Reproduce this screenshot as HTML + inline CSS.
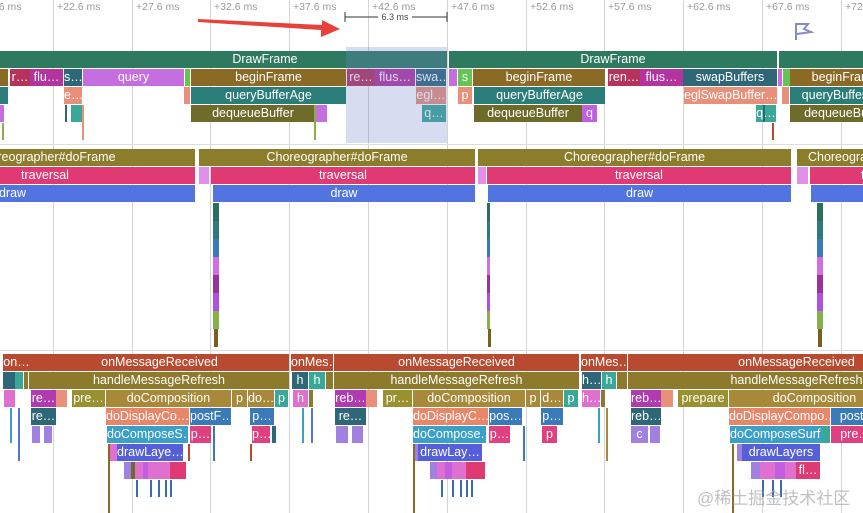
<!DOCTYPE html>
<html><head><meta charset="utf-8">
<style>
html,body{margin:0;padding:0;background:#fff;}
#root{position:relative;width:863px;height:513px;overflow:hidden;font-family:"Liberation Sans","Noto Sans CJK SC",sans-serif;}
.s{position:absolute;height:17px;color:#fff;font-size:12.5px;line-height:17px;text-align:center;overflow:hidden;white-space:nowrap;box-sizing:border-box;}
.g{position:absolute;top:0;width:1px;background:#d4d4d4;}
.t{position:absolute;top:1px;font-size:10.5px;color:#999;white-space:nowrap;}
.sep{position:absolute;left:0;width:863px;height:1px;background:#ddd;}
</style></head>
<body>
<div id="root">
  <svg style="position:absolute;left:0;top:0;z-index:4" width="863" height="50">
    <polygon points="198,19 322,25 322,20 340,29 321,37 321,30 198,22" fill="#e8403a"/>
    <line x1="345" y1="12" x2="345" y2="22" stroke="#333"/>
    <line x1="447" y1="12" x2="447" y2="22" stroke="#333"/>
    <line x1="345" y1="17" x2="378" y2="17" stroke="#333"/>
    <line x1="412" y1="17" x2="447" y2="17" stroke="#333"/>
    <text x="395" y="20" font-size="9" fill="#444" text-anchor="middle" font-family="Liberation Sans">6.3 ms</text>
    <g fill="none" stroke="#8888cc" stroke-width="2">
      <path d="M796,40 L796,24 L808,24 L804,29 L811,32 L797,34"/>
    </g>
  </svg>
  <div id="sel" style="position:absolute;left:346px;top:47px;width:101px;height:96px;background:rgba(110,130,200,0.28);z-index:5"></div>
  <div style="position:absolute;left:697px;top:484px;font-size:17px;color:rgba(150,150,150,0.6);z-index:6">@稀土掘金技术社区</div>
</div>
<script>
const tickLabels=["+17.6 ms","+22.6 ms","+27.6 ms","+32.6 ms","+37.6 ms","+42.6 ms","+47.6 ms","+52.6 ms","+57.6 ms","+62.6 ms","+67.6 ms","+72.6 ms"];
const tickStart=-26, tickStep=78.8;
const rowY=[51,69,87,105,123, 149,167,185,203,221,239,257,275,293,311,329, 354,372,390,408,426,444,462,480,498];
const C={df:"#2d7a60",bf:"#8a6a25",qa:"#2a7d78",dq:"#6e6a2a",q:"#c46ee0",r:"#b5325a",fl:"#b3349e",sw:"#2e6878",e:"#e8907a",gr:"#66c455",pu:"#c060e0",tl:"#3aa898",
ch:"#8c7d2a",tr:"#e03a74",dr:"#5274e0",lp:"#e090e8",
om:"#b84a30",hm:"#8e7a2c",dc:"#a8893a",ddc:"#e8866a",pf:"#3a7ab8",dcs:"#3aa0c8",dl:"#5560d8",rb:"#b03ab0",pr:"#9a9030",pk:"#e04080",hp:"#e070d0",vp:"#a080e0"};
// [start,end,row,colorKey,label]
const slices=[
[0,83,0,"df",""],[83,447,0,"df","DrawFrame"],[449,777,0,"df","DrawFrame"],[779,863,0,"df",""],
[0,8,1,"bf",""],[10,30,1,"r","r…"],[30,63,1,"fl","flu…"],[64,82,1,"sw","s…"],[83,184,1,"q","query"],[185,190,1,"gr",""],[191,346,1,"bf","beginFrame"],[347,375,1,"r","re…"],[375,415,1,"fl","flus…"],[416,446,1,"sw","swa…"],[449,457,1,"q",""],[458,472,1,"gr","s"],[473,605,1,"bf","beginFrame"],[608,640,1,"r","ren…"],[640,683,1,"fl","flus…"],[683,777,1,"sw","swapBuffers"],[778,782,1,"q",""],[783,790,1,"gr",""],[790,900,1,"bf","beginFrame"],
[0,8,2,"qa",""],[64,82,2,"e","e…"],[184,190,2,"e",""],[191,346,2,"qa","queryBufferAge"],[416,446,2,"e","egl…"],[458,472,2,"e","p"],[474,605,2,"qa","queryBufferAge"],[684,777,2,"e","eglSwapBuffer…"],[782,789,2,"e",""],[790,900,2,"qa","queryBufferAge"],
[0,4,3,"q",""],[71,82,3,"tl",""],[191,315,3,"dq","dequeueBuffer"],[315,327,3,"q",""],[422,446,3,"tl","q…"],[474,582,3,"dq","dequeueBuffer"],[582,597,3,"pu","q"],[756,776,3,"tl","q…"],[790,900,3,"dq","dequeueBuffer"],
[-105,195,5,"ch","Choreographer#doFrame"],[199,475,5,"ch","Choreographer#doFrame"],[478,791,5,"ch","Choreographer#doFrame"],[797,960,5,"ch","Choreographer#doFrame"],
[-105,195,6,"tr","traversal"],[199,209,6,"lp",""],[211,475,6,"tr","traversal"],[478,486,6,"lp",""],[487,791,6,"tr","traversal"],[797,808,6,"lp",""],[810,960,6,"tr","traversal"],
[-170,195,7,"dr","draw"],[213,475,7,"dr","draw"],[488,791,7,"dr","draw"],[811,960,7,"dr","draw"],
[3,30,16,"om","on…"],[30,289,16,"om","onMessageReceived"],[291,333,16,"om","onMes…"],[334,579,16,"om","onMessageReceived"],[581,627,16,"om","onMes…"],[628,965,16,"om","onMessageReceived"],
[3,15,17,"sw",""],[15,23,17,"tl",""],[24,28,17,"hm",""],[29,289,17,"hm","handleMessageRefresh"],[292,308,17,"sw","h"],[309,325,17,"tl","h"],[326,333,17,"hm",""],[334,579,17,"hm","handleMessageRefresh"],[582,601,17,"sw","h…"],[602,616,17,"tl","h"],[617,627,17,"hm",""],[628,965,17,"hm","handleMessageRefresh"],
[4,15,18,"hp",""],[31,56,18,"rb","re…"],[56,67,18,"e",""],[72,105,18,"pr","pre…"],[106,231,18,"dc","doComposition"],[232,247,18,"dc","p"],[248,274,18,"dc","do…"],[275,288,18,"tl","p"],[293,308,18,"hp","h"],[309,313,18,"hm",""],[335,366,18,"rb","reb…"],[366,377,18,"e",""],[383,412,18,"pr","pr…"],[413,525,18,"dc","doComposition"],[526,540,18,"dc","p"],[541,563,18,"dc","d…"],[564,578,18,"tl","p"],[582,600,18,"hp","h…"],[601,605,18,"hm",""],[631,661,18,"rb","reb…"],[661,673,18,"e",""],[678,728,18,"pr","prepare"],[729,900,18,"dc","doComposition"],
[31,56,19,"sw","re…"],[106,189,19,"ddc","doDisplayCo…"],[190,231,19,"pf","postF…"],[250,274,19,"pf","p…"],[335,366,19,"sw","re…"],[413,488,19,"ddc","doDisplayC…"],[489,522,19,"pf","pos…"],[541,563,19,"pf","p…"],[631,661,19,"sw","reb…"],[729,830,19,"ddc","doDisplayCompo…"],[831,880,19,"pf","postF"],
[32,40,20,"vp",""],[44,52,20,"vp",""],[107,188,20,"dcs","doComposeS…"],[190,211,20,"pk","p…"],[252,270,20,"pk","p…"],[272,276,20,"sw",""],[336,348,20,"vp",""],[352,363,20,"vp",""],[413,486,20,"dcs","doCompose…"],[489,510,20,"pk","p…"],[542,557,20,"pk","p"],[631,648,20,"vp","c"],[650,660,20,"vp",""],[730,822,20,"dcs","doComposeSurf…"],[822,830,20,"tl",""],[831,880,20,"pk","pre…"],
[110,117,21,"hp",""],[117,183,21,"dl","drawLaye…"],[414,418,21,"vp",""],[418,482,21,"dl","drawLay…"],[737,742,21,"vp",""],[742,820,21,"dl","drawLayers"],
[124,131,22,"vp",""],[131,135,22,"dq",""],[135,143,22,"hp",""],[143,148,22,"pu",""],[148,158,22,"hp",""],[158,170,22,"hp",""],[170,186,22,"tr",""],
[430,437,22,"vp",""],[437,445,22,"hp",""],[445,452,22,"pu",""],[452,466,22,"hp",""],[466,485,22,"tr",""],
[751,760,22,"vp",""],[760,775,22,"hp",""],[775,785,22,"pu",""],[785,796,22,"hp",""],[796,820,22,"tr","fl…"]
];
// thin vertical call lines: [x, topRow, bottomRow, color]
const thinLines=[
[108,21,24,"#8a6a25"],[136,23,23,"#3a6ab0"],[150,23,23,"#3a6ab0"],[158,23,23,"#3a6ab0"],[165,23,23,"#3a6ab0"],[170,23,23,"#3a6ab0"],
[188,21,21,"#b84a30"],[213,20,21,"#3a7ab8"],[250,21,21,"#b84a30"],[18,19,21,"#5274e0"],[10,19,20,"#3aa0c8"],
[413,21,24,"#8a6a25"],[441,23,23,"#3a6ab0"],[452,23,23,"#3a6ab0"],[460,23,23,"#3a6ab0"],[466,23,23,"#3a6ab0"],[471,23,23,"#3a6ab0"],
[311,19,20,"#5274e0"],[302,19,20,"#3aa0c8"],[606,19,21,"#a8893a"],[598,19,20,"#3aa0c8"],[523,20,21,"#3a7ab8"],
[732,21,24,"#8a6a25"],[762,23,23,"#3a6ab0"],[772,23,23,"#3a6ab0"],[780,23,23,"#3a6ab0"],
[2,4,4,"#88b048"],[82,3,4,"#e8907a"],[314,3,4,"#88b048"],[763,3,3,"#2e6878"],[772,4,4,"#b84a30"],[65,3,3,"#2e6878"]
];
// thin stacks under draw
const stackX=[213,487,817];
const stackColors=["#2a6e60","#2f7a80","#3a7ab8","#d070e0","#993399","#b050e0","#88b048","#7a6020"];
const root=document.getElementById('root');
tickLabels.forEach((lab,i)=>{
  const x=Math.round(tickStart+i*tickStep);
  const g=document.createElement('div');g.className='g';g.style.left=x+'px';g.style.height='513px';
  
  
  root.appendChild(g);
  const t=document.createElement('div');t.className='t';t.style.left=(x+4)+'px';t.textContent=lab;
  
  
  root.appendChild(t);
});
[144,350].forEach(y=>{const d=document.createElement('div');d.className='sep';d.style.top=y+'px';
  
  
  root.appendChild(d);});
slices.forEach(s=>{
  const d=document.createElement('div');d.className='s';
  d.style.left=s[0]+'px';d.style.width=(s[1]-s[0])+'px';d.style.top=rowY[s[2]]+'px';
  d.style.background=C[s[3]];d.textContent=s[4];
  
  
  root.appendChild(d);
});
thinLines.forEach(l=>{
  const d=document.createElement('div');d.className='s';
  d.style.left=l[0]+'px';d.style.width='2px';d.style.top=rowY[l[1]]+'px';
  d.style.height=(rowY[l[2]]-rowY[l[1]]+17)+'px';d.style.background=l[3];
  
  
  root.appendChild(d);
});
stackX.forEach((x,k)=>{
  stackColors.forEach((c,i)=>{
    const d=document.createElement('div');d.className='s';
    d.style.left=(x+(i==7?1:0))+'px';d.style.width=(k==1?3:(i==7?4:6))+'px';
    d.style.top=(203+i*18)+'px';d.style.height='18px';d.style.background=c;
    
    
    root.appendChild(d);
  });
});
</script>
</body></html>
